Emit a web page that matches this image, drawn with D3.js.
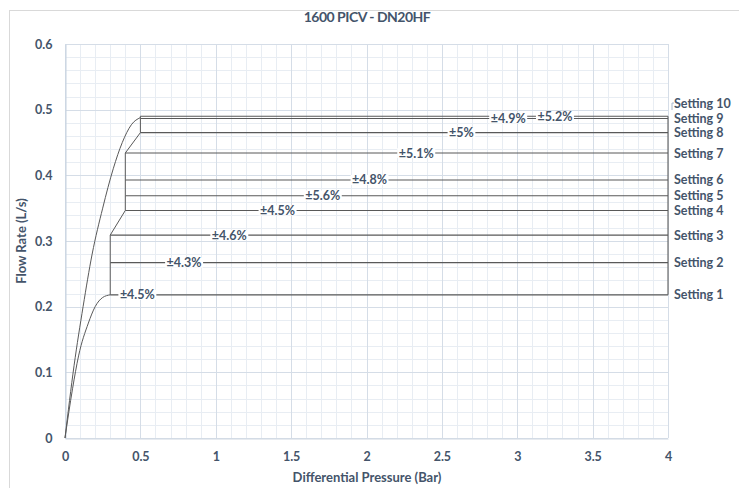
<!DOCTYPE html>
<html>
<head>
<meta charset="utf-8">
<script src="https://cdn.jsdelivr.net/npm/d3@7/dist/d3.min.js"></script>
<style>
  html, body { margin: 0; padding: 0; background: #fff; }
  svg { display: block; }
  text { font-family: Lato, "Open Sans", sans-serif; font-weight: bold; fill: #44546a; }
</style>
</head>
<body>
<svg id="chart" width="739" height="488"></svg>
<script>
// ---------- data ----------
const chartTitle = "1600 PICV - DN20HF";
const xAxisTitle = "Differential Pressure (Bar)";
const yAxisTitle = "Flow Rate (L/s)";
const xTicks = [0, 0.5, 1, 1.5, 2, 2.5, 3, 3.5, 4];
const yTicks = [0, 0.1, 0.2, 0.3, 0.4, 0.5, 0.6];
const settings = ["Setting 1", "Setting 2", "Setting 3", "Setting 4", "Setting 5",
                  "Setting 6", "Setting 7", "Setting 8", "Setting 9", "Setting 10"];
const flowRates = [0.218, 0.267, 0.309, 0.3465, 0.369, 0.393, 0.434, 0.465, 0.4865, 0.490];
const minPressure = [0.3, 0.3, 0.3, 0.4, 0.4, 0.4, 0.4, 0.5, 0.5, 0.5];
const maxPressure = 4;
const tolerances = ["±4.5%", "±4.3%", "±4.6%", "±4.5%", "±5.6%", "±4.8%", "±5.1%", "±5%", "±4.9%", "±5.2%"];
const tolLabelPressure = [0.48, 0.79, 1.09, 1.41, 1.71, 2.02, 2.33, 2.63, 2.94, 3.25];
// opening curve of the largest setting
const outerCurveP = [0, 0.06, 0.12, 0.18, 0.25, 0.32, 0.38, 0.44, 0.5];
const outerCurveQ = [0, 0.11, 0.2, 0.28, 0.35, 0.41, 0.45, 0.477, 0.488];
// opening curve of the smallest setting
const innerCurveP = [0, 0.05, 0.09, 0.155, 0.2, 0.25, 0.3];
const innerCurveQ = [0, 0.075, 0.125, 0.175, 0.2, 0.214, 0.218];

// ---------- layout ----------
const svg = d3.select("#chart");
const W = 739, H = 488;
const plot = { left: 65, right: 668, top: 44, bottom: 438 };

const x = d3.scaleLinear().domain([0, 4]).range([plot.left, plot.right]);
const y = d3.scaleLinear().domain([0, 0.6]).range([plot.bottom, plot.top]);

// chart frame
svg.append("rect").attr("x", 9.5).attr("y", 10.5).attr("width", W).attr("height", H)
  .attr("fill", "#fff").attr("stroke", "#d9d9d9");

// minor grid
const g = svg.append("g");
g.selectAll("line.minorx").data(d3.range(0, 41).map(i => i / 10)).join("line")
  .attr("x1", d => Math.round(x(d)) + 0.5).attr("x2", d => Math.round(x(d)) + 0.5)
  .attr("y1", plot.top).attr("y2", plot.bottom).attr("stroke", "#e8edf3");
g.selectAll("line.minory").data(d3.range(0, 31).map(i => i / 50)).join("line")
  .attr("y1", d => Math.round(y(d)) + 0.5).attr("y2", d => Math.round(y(d)) + 0.5)
  .attr("x1", plot.left).attr("x2", plot.right).attr("stroke", "#e8edf3");
// major grid
g.selectAll("line.majorx").data(xTicks).join("line")
  .attr("x1", d => Math.round(x(d)) + 0.5).attr("x2", d => Math.round(x(d)) + 0.5)
  .attr("y1", plot.top).attr("y2", plot.bottom).attr("stroke", "#d5dde7");
g.selectAll("line.majory").data(yTicks).join("line")
  .attr("y1", d => Math.round(y(d)) + 0.5).attr("y2", d => Math.round(y(d)) + 0.5)
  .attr("x1", plot.left).attr("x2", plot.right).attr("stroke", "#d5dde7");

// axes
const xAxis = d3.axisBottom(x).tickValues(xTicks).tickSize(0).tickPadding(14)
  .tickFormat(d => String(d));
const yAxis = d3.axisLeft(y).tickValues(yTicks).tickSize(0).tickPadding(13)
  .tickFormat(d => String(d));
const gx = svg.append("g").attr("transform", `translate(0,${plot.bottom + 0.5})`).call(xAxis);
const gy = svg.append("g").attr("transform", `translate(${plot.left + 0.5},0)`).call(yAxis);
gx.select(".domain").attr("stroke", "#d0d8e2");
gy.select(".domain").attr("stroke", "#c5d1df");
[gx, gy].forEach(a => a.selectAll("text").style("font-size", "12.5px")
  .style("font-family", "Lato, sans-serif").style("font-weight", "bold").attr("fill", "#44546a"));

// title and axis titles
svg.append("text").attr("x", 367).attr("y", 22).attr("text-anchor", "middle")
  .style("font-size", "14px").style("letter-spacing", "-0.5px").text(chartTitle);
svg.append("text").attr("x", 367).attr("y", 482).attr("text-anchor", "middle")
  .style("font-size", "13px").text(xAxisTitle);
svg.append("text").attr("transform", `translate(26,${(plot.top + plot.bottom) / 2})`+" rotate(-90)")
  .attr("text-anchor", "middle").style("font-size", "13px").text(yAxisTitle);

// curves
const line = d3.line().x(d => x(d[0])).y(d => y(d[1]));
const smooth = d3.line().x(d => x(d[0])).y(d => y(d[1])).curve(d3.curveMonotoneX);
const lines = svg.append("g").attr("fill", "none");

lines.append("path").attr("d", smooth(outerCurveP.map((p, i) => [p, outerCurveQ[i]])))
  .attr("stroke", "#595959").attr("stroke-width", 1);
lines.append("path").attr("d", smooth(innerCurveP.map((p, i) => [p, innerCurveQ[i]])))
  .attr("stroke", "#595959").attr("stroke-width", 1);
// envelope through the start of each setting line
lines.append("path").attr("d", line(settings.map((s, i) => [minPressure[i], flowRates[i]])))
  .attr("stroke", "#595959").attr("stroke-width", 1);
// right edge at max pressure
lines.append("path").attr("d", line([[maxPressure, flowRates[0]], [maxPressure, d3.max(flowRates)]]))
  .attr("stroke", "#6b6b6b").attr("stroke-width", 1.2);

// setting lines
lines.selectAll("path.setting").data(settings).join("path")
  .attr("d", (s, i) => line([[minPressure[i], flowRates[i]], [maxPressure, flowRates[i]]]))
  .attr("stroke", "#595959").attr("stroke-width", 1.1);

// tolerance labels with white background
const tl = svg.append("g");
settings.forEach((s, i) => {
  const gg = tl.append("g");
  const t = gg.append("text").attr("x", x(tolLabelPressure[i])).attr("y", y(flowRates[i]))
    .attr("text-anchor", "middle").attr("dy", "0.36em").style("font-size", "12.5px")
    .text(tolerances[i]);
  const bb = t.node().getBBox();
  gg.insert("rect", "text").attr("x", bb.x - 1.5).attr("y", y(flowRates[i]) - 5)
    .attr("width", bb.width + 3).attr("height", 10).attr("fill", "#fff");
});

// setting labels on the right, pushed apart when they collide
const labelY = flowRates.map(q => y(q));
for (let i = 1; i < labelY.length; i++) {
  if (labelY[i - 1] - labelY[i] < 12) labelY[i] = labelY[i - 1] - 15.5;
}
settings.forEach((s, i) => {
  svg.append("text").attr("x", 674).attr("y", labelY[i]).attr("dy", "0.36em")
    .style("font-size", "12.5px").text(s);
  if (Math.abs(labelY[i] - y(flowRates[i])) > 2) {
    svg.append("path")
      .attr("d", `M${plot.right + 4},${labelY[i] + 7} L${plot.right + 4},${labelY[i]} L${plot.right + 6},${labelY[i]}`)
      .attr("fill", "none").attr("stroke", "#a9b8cb").attr("stroke-width", 1);
  }
});
</script>
</body>
</html>
